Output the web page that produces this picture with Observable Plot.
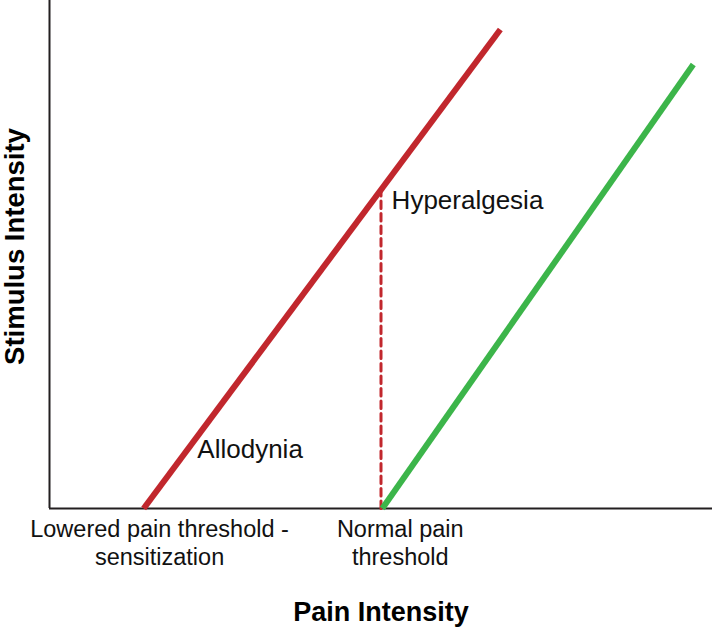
<!DOCTYPE html>
<html>
<head>
<meta charset="utf-8">
<script src="https://cdn.jsdelivr.net/npm/d3@7"></script>
<script src="https://cdn.jsdelivr.net/npm/@observablehq/plot@0.6"></script>
<style>
  html, body { margin: 0; padding: 0; background: #fff; }
</style>
</head>
<body>
<div id="chart"></div>
<script>
// ---- data (arbitrary units, 0..10 on both axes) ----
const redX = [1.42, 6.80];          // sensitized response
const redY = [0, 9.43];
const greenX = [5.02, 9.71];        // normal response
const greenY = [0, 8.74];
const dashX = [5.0, 5.0];           // normal threshold marker up to red line
const dashY = [0, 6.27];

const tickValues = [1.66, 5.29];
const tickLabels = ["Lowered pain threshold -\nsensitization", "Normal pain\nthreshold"];

const annoText = ["Hyperalgesia", "Allodynia"];
const annoX = [5.16, 2.23];
const annoY = [5.9, 1.0];

const xTitle = "Pain Intensity";
const yTitle = "Stimulus Intensity";

const toPts = (xs, ys) => xs.map((x, i) => ({x, y: ys[i]}));
const redPts = toPts(redX, redY);
const greenPts = toPts(greenX, greenY);
const dashPts = toPts(dashX, dashY);
const ticks = tickValues.map((x, i) => ({x, label: tickLabels[i]}));
const annos = annoText.map((t, i) => ({t, x: annoX[i], y: annoY[i]}));

const RED = "#c1272d";
const GREEN = "#3cb54a";

const chart = Plot.plot({
  width: 712,
  height: 631,
  marginLeft: 49,
  marginRight: 0,
  marginTop: 0,
  marginBottom: 123,
  x: {domain: [0, 10], axis: null},
  y: {domain: [0, 10], axis: null},
  style: {fontFamily: "'Liberation Sans', Arial, Helvetica, sans-serif", background: "#fff", color: "#111"},
  marks: [
    Plot.ruleX([0], {stroke: "#231f20", strokeWidth: 2}),
    Plot.ruleY([0], {stroke: "#231f20", strokeWidth: 2}),
    Plot.line(dashPts, {x: "x", y: "y", stroke: RED, strokeWidth: 3, strokeDasharray: "7.5,5"}),
    Plot.line(redPts, {x: "x", y: "y", stroke: RED, strokeWidth: 6, strokeLinecap: "butt"}),
    Plot.line(greenPts, {x: "x", y: "y", stroke: GREEN, strokeWidth: 6, strokeLinecap: "butt"}),
    Plot.text(annos, {x: "x", y: "y", text: "t", textAnchor: "start", lineAnchor: "bottom", fontSize: 26, fill: "#111"}),
    Plot.text(ticks, {x: "x", y: () => 0, text: "label", textAnchor: "middle", lineAnchor: "top", dy: 9, fontSize: 23.5, lineHeight: 1.17, fill: "#111"}),
    Plot.text([xTitle], {text: d => d, frameAnchor: "bottom", textAnchor: "middle", lineAnchor: "bottom", dy: 112, fontSize: 27, fontWeight: "bold", fill: "#000"}),
    Plot.text([yTitle], {text: d => d, frameAnchor: "left", textAnchor: "middle", lineAnchor: "bottom", rotate: -90, dx: -26, dy: -8, fontSize: 27.5, fontWeight: "bold", fill: "#000"})
  ]
});
document.getElementById("chart").appendChild(chart);
</script>
</body>
</html>
